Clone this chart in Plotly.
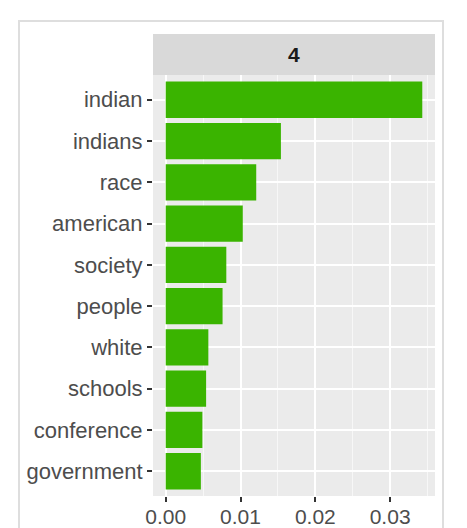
import plotly.graph_objects as go

terms = ["indian", "indians", "race", "american", "society", "people",
         "white", "schools", "conference", "government"]
beta = [0.0343, 0.0154, 0.0121, 0.0103, 0.0081, 0.0076,
        0.0057, 0.0054, 0.0049, 0.0047]
panel_label = "4"
x_ticks = [0.0, 0.01, 0.02, 0.03]
x_tick_text = ["0.00", "0.01", "0.02", "0.03"]

fig = go.Figure()
fig.add_trace(go.Bar(
    x=beta, y=terms, orientation="h",
    marker=dict(color="#3AB400", line=dict(width=0)),
    width=0.88,
))

W, H = 467, 528
L, R, T, B = 153, 32, 75, 32
ph = H - T - B
pw = W - L - R

fig.update_layout(
    width=W, height=H,
    margin=dict(l=L, r=R, t=T, b=B, pad=0, autoexpand=False),
    paper_bgcolor="white",
    plot_bgcolor="#EBEBEB",
    showlegend=False,
    font=dict(family="Liberation Sans, Arial, sans-serif", color="#4D4D4D", size=22),
    xaxis=dict(
        range=[-0.0017, 0.0360],
        tickvals=x_ticks, ticktext=x_tick_text,
        showgrid=True, gridcolor="white", gridwidth=1.6,
        minor=dict(dtick=0.005, tick0=0.005, showgrid=True, gridcolor="#F7F7F7", gridwidth=0.8),
        ticks="outside", ticklen=5, tickcolor="#333333", tickwidth=1.5,
        zeroline=False, showline=False, automargin=False,
        ticklabelstandoff=-3,
        tickfont=dict(size=21, color="#4D4D4D"),
    ),
    yaxis=dict(
        categoryorder="array", categoryarray=terms,
        autorange=False, range=[9.6, -0.6],
        showgrid=True, gridcolor="white", gridwidth=1.6,
        ticks="outside", ticklen=5, tickcolor="#333333", tickwidth=1.5,
        zeroline=False, showline=False, automargin=False,
        tickfont=dict(size=22, color="#4D4D4D"),
    ),
    shapes=[
        dict(type="rect", xref="paper", yref="paper",
             x0=0, x1=1, y0=1, y1=1 + 41 / ph,
             fillcolor="#D9D9D9", line=dict(width=0), layer="below"),
        dict(type="rect", xref="paper", yref="paper",
             x0=(19 - L) / pw, x1=(443 - L) / pw,
             y0=-(40) / ph, y1=(H - B - 21) / ph,
             fillcolor="rgba(0,0,0,0)", line=dict(color="#DEDEDE", width=2)),
    ],
    annotations=[
        dict(text="<b>" + panel_label + "</b>", xref="paper", yref="paper",
             x=0.5, y=1 + 20.5 / ph, xanchor="center", yanchor="middle",
             showarrow=False, font=dict(size=21, color="#1A1A1A")),
    ],
)

fig.write_html("out.html", config={"displayModeBar": False},
               post_script="document.body.style.margin='0';document.body.style.overflow='hidden';")
